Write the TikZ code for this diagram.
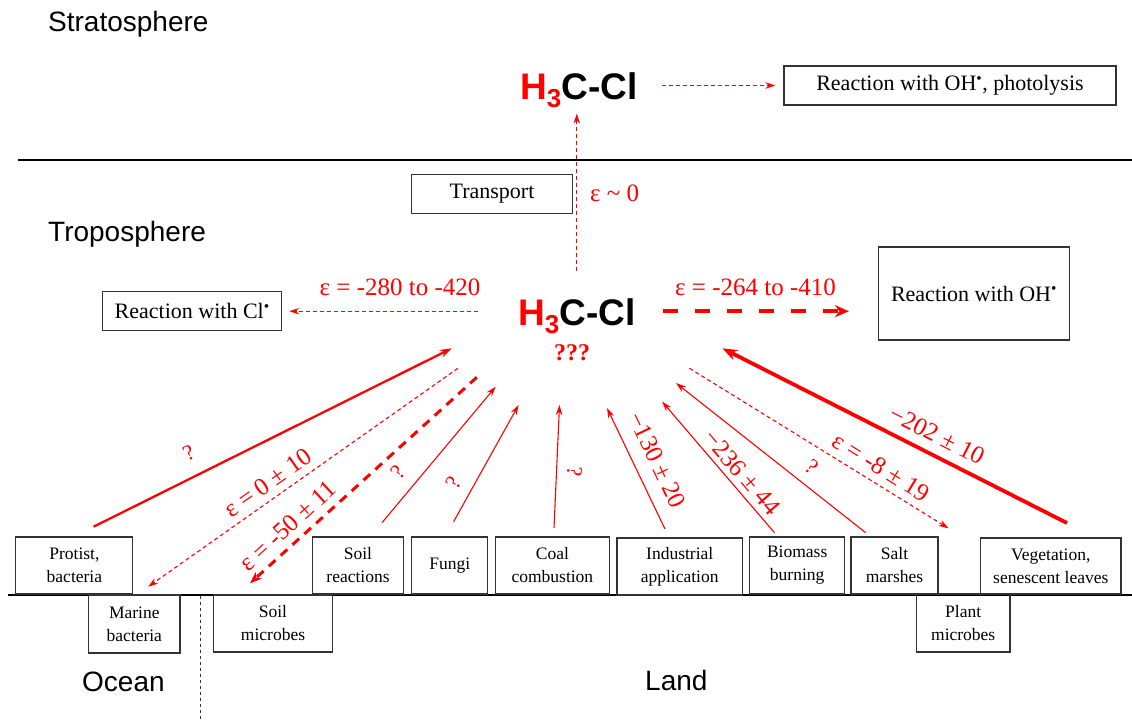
\documentclass[tikz,border=0pt]{standalone}
\usepackage[dvipsnames,svgnames]{xcolor}
\usepackage{fontspec}
\setmainfont{Liberation Serif}
\newfontfamily\arialfont{Liberation Sans}
\usetikzlibrary{arrows.meta}
\newcommand\methylcl{\textcolor{red}{H\raisebox{-0.22em}{\fontsize{26}{26}\selectfont 3}}C-Cl}

\begin{document}
\begin{tikzpicture}[x=1pt,y=-1pt,
 box/.style={draw=black!80,line width=1.1pt,inner sep=0pt,align=center,
   font=\fontsize{17.5}{23}\selectfont},
 bigbox/.style={box,font=\fontsize{22}{26}\selectfont},
 region/.style={anchor=base west,inner sep=0pt,font=\arialfont\fontsize{28}{30}\selectfont},
 mol/.style={anchor=base west,inner sep=0pt,font=\arialfont\bfseries\fontsize{37}{40}\selectfont},
 eps/.style={text=red,inner sep=0pt,font=\fontsize{25}{28}\selectfont},
 qm/.style={text=red,inner sep=0pt,font=\fontsize{22}{24}\selectfont},
 flux/.style={red,line width=1.1pt,-{Stealth[length=10pt,width=6.5pt]}},
 loss/.style={flux,dash pattern=on 4pt off 3pt},
 protflux/.style={flux,line width=2.3pt,-{Stealth[length=12pt,width=8pt]}},
 vegflux/.style={flux,line width=3.8pt,-{Stealth[length=15pt,width=11pt]}},
 soilloss/.style={flux,line width=3pt,dash pattern=on 9pt off 7pt,-{Stealth[length=12pt,width=9pt]}},
 ohloss/.style={flux,line width=4.5pt,dash pattern=on 15pt off 17pt,-{Stealth[length=14pt,width=12pt]}}]
 \useasboundingbox (0,0) rectangle (1132,721);
 % layers
 \draw[line width=1.3pt] (18,160) -- (1132,160);
 \draw[line width=1.3pt] (8,595) -- (1132,595);
 \draw[black!80,line width=1pt,dash pattern=on 3pt off 3pt] (200,596) -- (200,721);
 \node[region] (strat) at (48,31) {Stratosphere};
 \node[region] (trop) at (48,241) {Troposphere};
 \node[region] (ocean) at (82,691.5) {Ocean};
 \node[region] (land) at (645,690) {Land};
 % sinks
 \node[mol] (mtop) at (520,99) {\methylcl};
 \node[mol] (mmid) at (518,325) {\methylcl};
 \node[qm,font=\bfseries\fontsize{24}{26}\selectfont] (unk) at (572,353) {???};
 \node[bigbox,minimum width=332pt,minimum height=39pt] (phot) at (950,85.5)
   {Reaction with OH\textsuperscript{•}, photolysis};
 \node[bigbox,minimum width=161pt,minimum height=39pt] (trans) at (492,193.7) {Transport};
 \node[bigbox,minimum width=179pt,minimum height=39pt] (clbox) at (192.2,311.2)
   {Reaction with Cl\textsuperscript{•}};
 \node[bigbox,minimum width=191pt,minimum height=93pt] (ohbox) at (974,293.5)
   {Reaction with OH\textsuperscript{•}};
 \node[eps,anchor=west] (e6) at (590,193) {ε \textasciitilde{} 0};
 \node[eps] (e7) at (400,287) {ε = -280 to -420};
 \node[eps] (e8) at (755.5,287) {ε = -264 to -410};
 \draw[loss,shorten <=24pt,shorten >=8pt] (mtop.east |- phot.west) -- (phot.west);
 \draw[loss,shorten <=27pt,shorten >=6pt] (mmid.north) -- (mmid.north |- mtop.south);
 \draw[loss,shorten <=40pt,shorten >=7pt] (mmid.west |- clbox.east) -- (clbox.east);
 \draw[ohloss,shorten <=27pt,shorten >=29pt] (mmid.east |- clbox.east) -- (ohbox.west |- clbox.east);
 % sources
 \node[box,minimum width=117pt,minimum height=57pt] (prot) at (74.4,565.5) {Protist,\\bacteria};
 \node[box,minimum width=91.4pt,minimum height=58pt] (marb) at (134.3,624) {Marine\\bacteria};
 \node[box,minimum width=119pt,minimum height=57pt] (soilm) at (273,623.5) {Soil\\microbes};
 \node[box,minimum width=91pt,minimum height=57pt] (soilr) at (358,565.5) {Soil\\reactions};
 \node[box,minimum width=75.7pt,minimum height=57pt] (fungi) at (449.7,565.5) {Fungi};
 \node[box,minimum width=113.3pt,minimum height=57pt] (coal) at (552.4,565.5) {Coal\\combustion};
 \node[box,minimum width=125.4pt,minimum height=57pt] (indus) at (679.7,566.5) {Industrial\\application};
 \node[box,minimum width=95pt,minimum height=57pt] (biom) at (797.2,565.5) {Biomass\\burning};
 \node[box,minimum width=87pt,minimum height=57pt] (salt) at (894.5,565.5) {Salt\\marshes};
 \node[box,minimum width=140.4pt,minimum height=56pt] (veg) at (1050.8,566) {Vegetation,\\senescent leaves};
 \node[box,minimum width=93.6pt,minimum height=58pt] (plant) at (963.2,623) {Plant\\microbes};
 \coordinate (p0) at (93.6,526.7);   \coordinate (p1) at (451.8,348.3);
 \coordinate (mb0) at (457.9,368.3); \coordinate (mb1) at (148.2,586.7);
 \coordinate (sm0) at (476.8,377.3); \coordinate (sm1) at (250,583.3);
 \coordinate (sr0) at (382,522.7);   \coordinate (sr1) at (495.7,386.7);
 \coordinate (fu0) at (453.6,521.7); \coordinate (fu1) at (518.6,405);
 \coordinate (cc0) at (554,528);     \coordinate (cc1) at (559.5,405);
 \coordinate (ia0) at (665,529);     \coordinate (ia1) at (607,408);
 \coordinate (bb0) at (774.5,532.7); \coordinate (bb1) at (662.2,401.7);
 \coordinate (sa0) at (865.7,532.7); \coordinate (sa1) at (676,383);
 \coordinate (pm0) at (689.5,368.3); \coordinate (pm1) at (948.5,528.3);
 \coordinate (ve0) at (1067,523);    \coordinate (ve1) at (722.4,348.3);
 \draw[protflux] (p0) -- node[qm,sloped,above=15pt,pos=0.295] (q1) {?} (p1);
 \draw[loss] (mb0) -- node[eps,sloped,above=7pt,pos=0.584] (e1) {ε = 0 ± 10} (mb1);
 \draw[soilloss] (sm0) -- node[eps,sloped,above=7pt,pos=0.782] (e2) {ε = -50 ± 11} (sm1);
 \draw[flux] (sr0) -- node[qm,sloped,above=12pt,pos=0.279] (q2) {?} (sr1);
 \draw[flux] (fu0) -- node[qm,sloped,above=11pt,pos=0.251] (q3) {?} (fu1);
 \draw[flux] (cc0) -- node[qm,sloped,rotate=180,above=10pt,pos=0.462] (q4) {?} (cc1);
 \draw[flux] (ia0) -- node[eps,sloped,above=14pt,pos=0.489] (e3) {−130 ± 20} (ia1);
 \draw[flux] (bb0) -- node[eps,sloped,above=5.5pt,pos=0.387] (e4) {−236 ± 44} (bb1);
 \draw[flux] (sa0) -- node[qm,sloped,above=10.5pt,pos=0.345] (q5) {?} (sa1);
 \draw[loss] (pm0) -- node[eps,sloped,above=7.5pt,pos=0.707] (e5) {ε = -8 ± 19} (pm1);
 \draw[vegflux] (ve0) -- node[eps,sloped,above=9.5pt,pos=0.402] (e9) {−202 ± 10} (ve1);
\end{tikzpicture}
\end{document}
